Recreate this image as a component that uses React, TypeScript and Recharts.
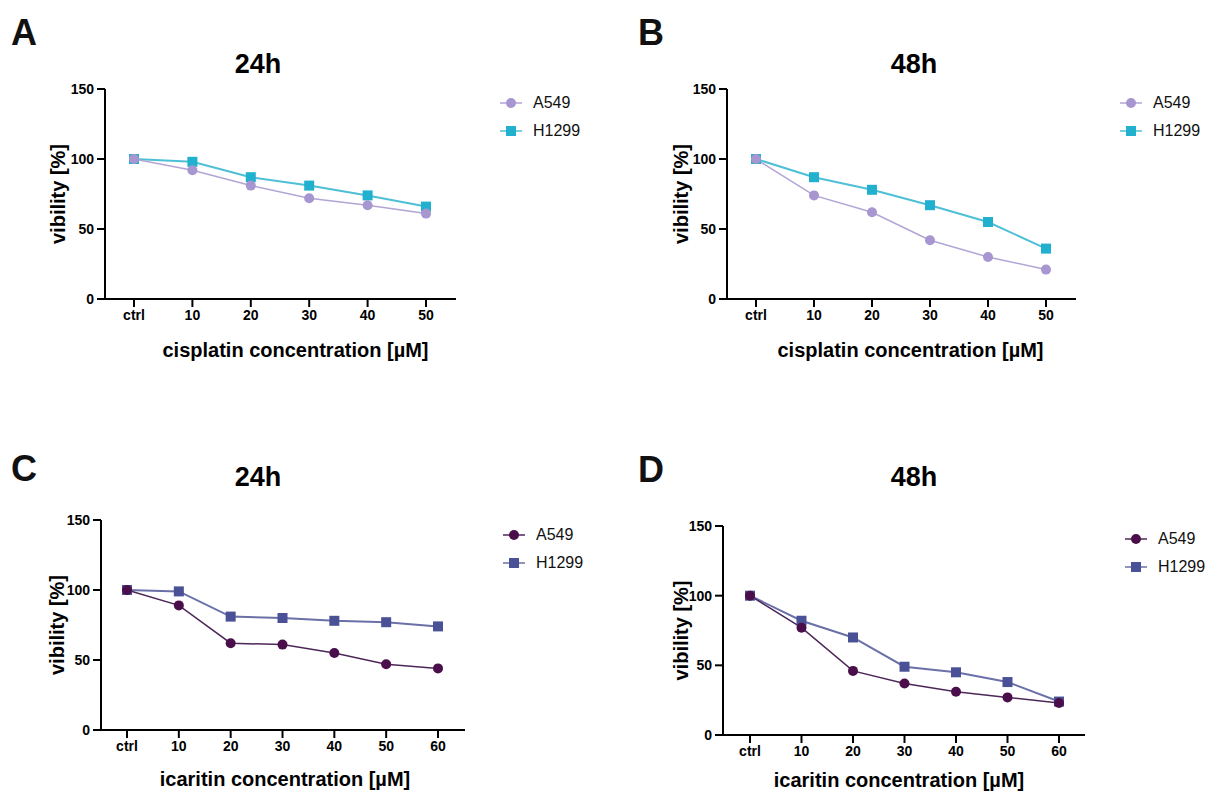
import React from 'react';
import { LineChart, Line, XAxis, YAxis, Label, Legend } from 'recharts';

// concentrations on the x axis
const cisplatinDoses = ['ctrl', '10', '20', '30', '40', '50'];
const icaritinDoses = ['ctrl', '10', '20', '30', '40', '50', '60'];
const yTicks = [0, 50, 100, 150];

// viability values [%]
const cis24hA549 = [100, 92, 81, 72, 67, 61];
const cis24hH1299 = [100, 98, 87, 81, 74, 66];
const cis48hA549 = [100, 74, 62, 42, 30, 21];
const cis48hH1299 = [100, 87, 78, 67, 55, 36];
const ica24hA549 = [100, 89, 62, 61, 55, 47, 44];
const ica24hH1299 = [100, 99, 81, 80, 78, 77, 74];
const ica48hA549 = [100, 77, 46, 37, 31, 27, 23];
const ica48hH1299 = [100, 82, 70, 49, 45, 38, 24];

const FONT = '"Liberation Sans", Arial, sans-serif';

const lightColors = { A549: { line: '#b2a5d6', mark: '#a796cf' }, H1299: { line: '#4dbfd6', mark: '#22b0cf' } };
const darkColors = { A549: { line: '#4d2757', mark: '#4a0f4a' }, H1299: { line: '#6a70a8', mark: '#4a5196' } };

type Colors = typeof lightColors;

const buildRows = (doses: string[], a549: number[], h1299: number[]) =>
  doses.map((dose, i) => ({ dose, A549: a549[i], H1299: h1299[i] }));

const circleDot = (color: string) => (p: any) => (
  <circle key={`c-${p.index}`} cx={p.cx} cy={p.cy} r={5} fill={color} stroke="none" />
);
const squareDot = (color: string) => (p: any) => (
  <rect key={`s-${p.index}`} x={p.cx - 5} y={p.cy - 5} width={10} height={10} fill={color} stroke="none" />
);

const legendContent = (colors: Colors) => (props: any) => {
  const items = [...(props.payload || [])].sort((a: any, b: any) => (a.value > b.value ? 1 : -1));
  return (
    <div style={{ fontFamily: FONT, fontSize: 16, color: '#111' }}>
      {items.map((entry: any) => {
        const c = colors[entry.value as 'A549' | 'H1299'];
        return (
          <div key={entry.value} style={{ display: 'flex', alignItems: 'center', height: 28 }}>
            <svg width={24} height={14} style={{ marginRight: 10 }}>
              <line x1={1} y1={7} x2={23} y2={7} stroke={c.line} strokeWidth={1.5} />
              {entry.value === 'A549' ? (
                <circle cx={12} cy={7} r={5} fill={c.mark} />
              ) : (
                <rect x={7} y={2} width={10} height={10} fill={c.mark} />
              )}
            </svg>
            <span>{entry.value}</span>
          </div>
        );
      })}
    </div>
  );
};

interface PanelProps {
  left: number;
  top: number;
  height: number;
  rows: { dose: string; A549: number; H1299: number }[];
  colors: Colors;
  margin: { top: number; right: number; left: number; bottom: number };
  yWidth: number;
  pad: { left: number; right: number };
  xLabel: string;
  xLabelOffset: number;
  xLabelDx: number;
  legendPos: { left: number; top: number };
}

const tickStyle = { fill: '#000', fontSize: 14, fontWeight: 700, fontFamily: FONT };
const axisStroke = { stroke: '#000', strokeWidth: 2 };

const Panel = (p: PanelProps) => (
  <div style={{ position: 'absolute', left: p.left, top: p.top }}>
    <LineChart width={607} height={p.height} data={p.rows} margin={p.margin}>
      <XAxis
        dataKey="dose"
        type="category"
        padding={p.pad}
        height={30}
        tickSize={8}
        tickMargin={3}
        tick={tickStyle}
        tickLine={axisStroke}
        axisLine={axisStroke}
        interval={0}
      >
        <Label
          value={p.xLabel}
          position="bottom"
          offset={p.xLabelOffset}
          dx={p.xLabelDx}
          fill="#000"
          fontSize={20}
          fontWeight={700}
          fontFamily={FONT}
        />
      </XAxis>
      <YAxis
        domain={[0, 150]}
        ticks={yTicks}
        width={p.yWidth}
        tickSize={8}
        tickMargin={3}
        tick={tickStyle}
        tickLine={axisStroke}
        axisLine={axisStroke}
        interval={0}
      >
        <Label
          value="vibility [%]"
          angle={-90}
          position="center"
          fill="#000"
          fontSize={20}
          fontWeight={700}
          fontFamily={FONT}
        />
      </YAxis>
      <Legend
        layout="vertical"
        align="center"
        verticalAlign="middle"
        wrapperStyle={{ left: p.legendPos.left, top: p.legendPos.top, width: 'auto' }}
        content={legendContent(p.colors)}
      />
      <Line
        dataKey="H1299"
        name="H1299"
        stroke={p.colors.H1299.line}
        strokeWidth={2}
        dot={squareDot(p.colors.H1299.mark)}
        activeDot={false}
        isAnimationActive={false}
      />
      <Line
        dataKey="A549"
        name="A549"
        stroke={p.colors.A549.line}
        strokeWidth={1.5}
        dot={circleDot(p.colors.A549.mark)}
        activeDot={false}
        isAnimationActive={false}
      />
    </LineChart>
  </div>
);

const App = () => (
  <div style={{ position: 'absolute', left: 0, top: 0, width: 1214, height: 798, background: '#fff', fontFamily: FONT }}>
    <Panel
      left={0}
      top={0}
      height={400}
      rows={buildRows(cisplatinDoses, cis24hA549, cis24hH1299)}
      colors={lightColors}
      margin={{ top: 89, right: 151, left: 10, bottom: 71 }}
      yWidth={95}
      pad={{ left: 29, right: 30 }}
      xLabel="cisplatin concentration [µM]"
      xLabelOffset={14}
      xLabelDx={15}
      legendPos={{ left: 499, top: 89 }}
    />
    <Panel
      left={607}
      top={0}
      height={400}
      rows={buildRows(cisplatinDoses, cis48hA549, cis48hH1299)}
      colors={lightColors}
      margin={{ top: 89, right: 138, left: 28, bottom: 71 }}
      yWidth={92}
      pad={{ left: 29, right: 30 }}
      xLabel="cisplatin concentration [µM]"
      xLabelOffset={14}
      xLabelDx={9}
      legendPos={{ left: 512, top: 89 }}
    />
    <Panel
      left={0}
      top={400}
      height={398}
      rows={buildRows(icaritinDoses, ica24hA549, ica24hH1299)}
      colors={darkColors}
      margin={{ top: 120, right: 142, left: 13, bottom: 38 }}
      yWidth={88}
      pad={{ left: 26, right: 27 }}
      xLabel="icaritin concentration [µM]"
      xLabelOffset={12}
      xLabelDx={2}
      legendPos={{ left: 502, top: 121 }}
    />
    <Panel
      left={607}
      top={400}
      height={398}
      rows={buildRows(icaritinDoses, ica48hA549, ica48hH1299)}
      colors={darkColors}
      margin={{ top: 126, right: 129, left: 32, bottom: 33 }}
      yWidth={84}
      pad={{ left: 27, right: 26 }}
      xLabel="icaritin concentration [µM]"
      xLabelOffset={8}
      xLabelDx={-5}
      legendPos={{ left: 517, top: 125 }}
    />
    <svg
      width={1214}
      height={798}
      style={{ position: 'absolute', left: 0, top: 0, pointerEvents: 'none' }}
      fontFamily={FONT}
      fontWeight={700}
    >
      <text x={11} y={45} fontSize={36} fill="#111">A</text>
      <text x={638} y={45} fontSize={36} fill="#111">B</text>
      <text x={11} y={481} fontSize={36} fill="#111">C</text>
      <text x={638} y={482} fontSize={36} fill="#111">D</text>
      <text x={258} y={73} fontSize={27} textAnchor="middle" fill="#000">24h</text>
      <text x={914} y={73} fontSize={27} textAnchor="middle" fill="#000">48h</text>
      <text x={258} y={486} fontSize={27} textAnchor="middle" fill="#000">24h</text>
      <text x={914} y={486} fontSize={27} textAnchor="middle" fill="#000">48h</text>
    </svg>
  </div>
);

export default App;
